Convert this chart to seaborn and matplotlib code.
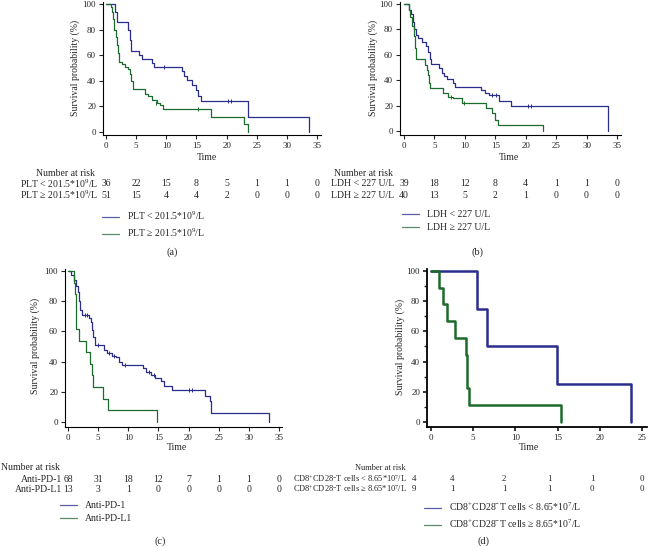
import numpy as np
import pandas as pd
import matplotlib
matplotlib.use("Agg")
import matplotlib.pyplot as plt
import matplotlib.transforms as mtransforms
from matplotlib.lines import Line2D
from matplotlib.ticker import MultipleLocator
import seaborn as sns

# ---- data ----
# (a) PLT
a_lo_t = [0, 1.5, 1.8, 3.6, 3.9, 4.2, 5.5, 6.0, 7.6, 8.0, 12.6, 13.0, 13.4, 14.3, 14.9, 15.3, 15.8, 23.5, 33.6]
a_lo_s = [100, 94, 86, 80, 72, 63, 60, 57, 54, 51, 48, 44, 41, 37, 33, 28, 24, 12, 0]
a_lo_ct = [9.6, 20.3, 20.8]
a_lo_cs = [51, 24, 24]
a_hi_t = [0, 0.8, 1.0, 1.2, 1.4, 1.6, 1.8, 2.0, 2.2, 2.6, 3.2, 3.6, 3.9, 4.1, 4.4, 6.4, 7.0, 7.6, 8.5, 9.0, 9.5, 17.4, 22.8, 23.6]
a_hi_s = [100, 98, 94, 88, 80, 74, 68, 62, 55, 53, 51, 49, 45, 40, 34, 30, 28, 25, 23, 21, 18, 12, 6, 0]
a_hi_ct = [8.3, 15.2]
a_hi_cs = [23, 18]

# (b) LDH
b_lo_t = [0, 0.8, 1.1, 1.4, 1.6, 1.9, 2.3, 3.0, 3.6, 3.9, 4.2, 4.5, 5.8, 6.2, 6.6, 7.1, 8.0, 8.4, 12.6, 13.3, 14.0, 15.6, 17.6, 33.5]
b_lo_s = [100, 95, 92, 86, 80, 76, 73, 70, 67, 62, 57, 53, 50, 46, 43, 41, 38, 35, 32, 30, 28, 24, 20, 0]
b_lo_ct = [14.5, 15.1, 20.3, 20.8]
b_lo_cs = [28, 28, 20, 20]
b_hi_t = [0, 0.8, 1.0, 1.3, 1.6, 1.8, 2.0, 3.4, 3.7, 3.9, 4.1, 4.3, 6.4, 7.2, 8.0, 9.5, 13.5, 14.4, 15.0, 15.5, 22.8]
b_hi_s = [100, 95, 90, 83, 75, 65, 57, 52, 48, 44, 38, 34, 30, 27, 26, 22, 18, 14, 9, 5, 0]
b_hi_ct = [7.7, 9.8]
b_hi_cs = [27, 22]

# (c) treatment
c_pd1_t = [0, 0.5, 1.0, 1.3, 1.6, 1.8, 2.0, 2.3, 3.4, 3.8, 4.0, 4.2, 4.4, 6.0, 6.5, 7.3, 8.0, 8.5, 9.0,
           12.5, 13.0, 13.8, 14.5, 15.5, 16.0, 17.3, 22.8, 23.5, 23.8, 33.4]
c_pd1_s = [100, 97, 94, 90, 86, 80, 74, 71, 69, 66, 61, 56, 51, 48, 46, 44, 43, 40, 38,
           36, 33, 31, 29, 27, 24, 21, 17, 14, 6, 0]
c_pd1_ct = [2.8, 3.2, 5.0, 6.8, 7.7, 9.5, 13.5, 14.2, 20.0, 20.5]
c_pd1_cs = [71, 71, 51, 46, 44, 38, 33, 31, 21, 21]
c_pdl1_t = [0, 1.0, 1.2, 1.4, 1.9, 3.0, 3.6, 4.0, 4.2, 5.8, 6.6, 14.8]
c_pdl1_s = [100, 92.3, 84.6, 61.5, 53.8, 46.2, 38.5, 30.8, 23.1, 15.4, 7.7, 0]

# (d) CD8+CD28- T cells
d_lo_t = [0, 5.5, 6.6, 14.9, 23.7]
d_lo_s = [100, 75, 50, 25, 0]
d_hi_t = [0, 0.9, 1.4, 1.9, 2.9, 4.15, 4.3, 4.45, 15.45]
d_hi_s = [100, 88.9, 77.8, 66.7, 55.6, 44.4, 22.2, 11.1, 0]

# numbers at risk
a_lbl = ["PLT < 201.5*10$^{9}$/L", "PLT ≥ 201.5*10$^{9}$/L"]
a_risk = [[36, 22, 15, 8, 5, 1, 1, 0], [51, 15, 4, 4, 2, 0, 0, 0]]
b_lbl = ["LDH < 227 U/L", "LDH ≥ 227 U/L"]
b_risk = [[39, 18, 12, 8, 4, 1, 1, 0], [40, 13, 5, 2, 1, 0, 0, 0]]
c_lbl = ["Anti-PD-1", "Anti-PD-L1"]
c_risk = [[68, 31, 18, 12, 7, 1, 1, 0], [13, 3, 1, 0, 0, 0, 0, 0]]
d_lbl = ["CD8$^{+}$CD28$^{-}$T cells < 8.65*10$^{7}$/L", "CD8$^{+}$CD28$^{-}$T cells ≥ 8.65*10$^{7}$/L"]
d_risk = [[4, 4, 2, 1, 1, 0], [9, 1, 1, 1, 0, 0]]

BLUE = "#2b2d8c"
GREEN = "#1c6b2c"
LEG_BLUE = "#5b5ea6"
LEG_GREEN = "#5d8a66"

sns.set_style("ticks")
plt.rcParams["font.family"] = ["Liberation Serif", "DejaVu Serif"]
plt.rcParams["mathtext.fontset"] = "custom"
plt.rcParams["mathtext.rm"] = "Liberation Serif"
plt.rcParams["mathtext.it"] = "Liberation Serif:italic"
plt.rcParams["mathtext.bf"] = "Liberation Serif:bold"

W, H = 648, 547
FS = 7
fig = plt.figure(figsize=(W / 100, H / 100), dpi=100)


def rect(x0, y0, x1, y1):
    return [x0 / W, 1 - y1 / H, (x1 - x0) / W, (y1 - y0) / H]


def fy(y):
    return 1 - y / H


def km(ax, curves, lw):
    frames = []
    for name, t, s, _ in curves:
        frames.append(pd.DataFrame({"time": t, "surv": s, "group": name}))
    df = pd.concat(frames, ignore_index=True)
    pal = {name: col for name, _, _, col in curves}
    sns.lineplot(data=df, x="time", y="surv", hue="group", palette=pal,
                 drawstyle="steps-post", estimator=None, sort=False,
                 legend=False, lw=lw, ax=ax)


def style(ax, xmax, xlim, ylim, spine_lw=0.8):
    sns.despine(ax=ax)
    for sp in ["left", "bottom"]:
        ax.spines[sp].set_linewidth(spine_lw)
        ax.spines[sp].set_color("black")
    ax.set_xlim(*xlim)
    ax.set_ylim(*ylim)
    ax.set_xticks(range(0, xmax + 1, 5))
    ax.set_yticks(range(0, 101, 20))
    ax.tick_params(direction="out", length=3, width=spine_lw, labelsize=6.5, pad=2)
    ax.set_xlabel("")
    ax.set_ylabel("")


def risk(ax, title, title_x, title_ha, labels, lab_right, rows, ys, xs, fs=FS, nfs=FS):
    trans = mtransforms.blended_transform_factory(ax.transData, fig.transFigure)
    fig.text(title_x / W, fy(ys[0]), title, ha=title_ha, va="center", fontsize=fs)
    for lab, vals, y in zip(labels, rows, ys[1:]):
        fig.text(lab_right / W, fy(y), lab, ha="right", va="center", fontsize=fs)
        for x, v in zip(xs, vals):
            ax.text(x, fy(y), str(v), transform=trans, ha="center", va="center",
                    fontsize=nfs, clip_on=False)


def legend(x, ytop, labels):
    handles = [Line2D([], [], color=LEG_BLUE, lw=0.9), Line2D([], [], color=LEG_GREEN, lw=0.9)]
    fig.legend(handles, labels, loc="upper left", bbox_to_anchor=(x / W, fy(ytop)),
               frameon=False, fontsize=FS, handlelength=1.7, handletextpad=0.9,
               labelspacing=0.45, borderpad=0, borderaxespad=0)


def texts(ylab_xy, time_xy, tag_xy, tag):
    fig.text(ylab_xy[0] / W, fy(ylab_xy[1]), "Survival probability (%)", rotation=90,
             ha="center", va="center", fontsize=FS)
    fig.text(time_xy[0] / W, fy(time_xy[1]), "Time", ha="center", va="center", fontsize=FS)
    fig.text(tag_xy[0] / W, fy(tag_xy[1]), tag, ha="center", va="center", fontsize=FS + 0.5)


ticks35 = list(range(0, 36, 5))

# ---- (a) ----
ax = fig.add_axes(rect(103, 2, 321, 135))
km(ax, [("lo", a_lo_t, a_lo_s, BLUE), ("hi", a_hi_t, a_hi_s, GREEN)], 0.9)
ax.plot(a_lo_ct, a_lo_cs, ls="none", marker="|", ms=3.5, mew=0.7, color=BLUE)
ax.plot(a_hi_ct, a_hi_cs, ls="none", marker="|", ms=3.5, mew=0.7, color=GREEN)
style(ax, 35, (-0.5, 35.65), (-2.3, 101.6))
texts((75, 68), (207, 157), (172, 252), "(a)")
risk(ax, "Number at risk", 95, "right", a_lbl, 98, a_risk, [173, 184, 195], ticks35)
legend(102, 210, a_lbl)

# ---- (b) ----
ax = fig.add_axes(rect(400, 2, 621, 135))
km(ax, [("lo", b_lo_t, b_lo_s, BLUE), ("hi", b_hi_t, b_hi_s, GREEN)], 0.9)
ax.plot(b_lo_ct, b_lo_cs, ls="none", marker="|", ms=3.5, mew=0.7, color=BLUE)
ax.plot(b_hi_ct, b_hi_cs, ls="none", marker="|", ms=3.5, mew=0.7, color=GREEN)
style(ax, 35, (-0.66, 35.66), (-3.1, 101.6))
texts((373, 68), (509, 157), (478, 252), "(b)")
risk(ax, "Number at risk", 393, "right", b_lbl, 394, b_risk, [173, 184, 195], ticks35)
legend(402, 210, b_lbl)

# ---- (c) ----
ax = fig.add_axes(rect(65, 269, 282, 427))
km(ax, [("pd1", c_pd1_t, c_pd1_s, BLUE), ("pdl1", c_pdl1_t, c_pdl1_s, GREEN)], 0.9)
ax.plot(c_pd1_ct, c_pd1_cs, ls="none", marker="|", ms=3.5, mew=0.7, color=BLUE)
style(ax, 35, (-0.5, 35.5), (-3.3, 101.3))
texts((35, 346), (177, 448), (160, 541), "(c)")
risk(ax, "Number at risk", 1, "left", c_lbl, 62, c_risk, [468, 479, 489], ticks35)
legend(60, 501, c_lbl)

# ---- (d) ----
ax = fig.add_axes(rect(427, 269, 647, 427))
km(ax, [("lo", d_lo_t, d_lo_s, BLUE), ("hi", d_hi_t, d_hi_s, GREEN)], 1.8)
style(ax, 25, (-0.47, 25.6), (-3.3, 101.3), spine_lw=1.3)
ax.yaxis.set_minor_locator(MultipleLocator(10))
ax.tick_params(which="minor", direction="out", length=2, width=1.0)
texts((400, 347), (529, 448), (483, 541), "(d)")
d_cols = [-2.0, 2.5, 8.65, 14.0, 19.1, 25]
risk(ax, "Number at risk", 406, "right", d_lbl, 407, d_risk, [468, 479, 489], d_cols, fs=6, nfs=6.5)
legend(424, 501, d_lbl)

fig.savefig("out.png", dpi=100)
